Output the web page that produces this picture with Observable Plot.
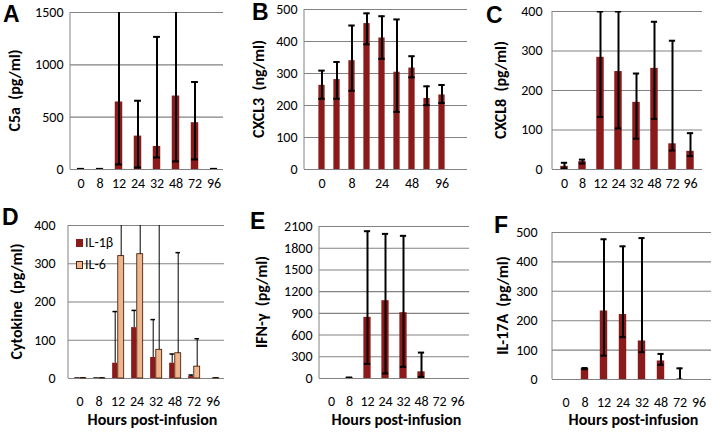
<!DOCTYPE html>
<html><head><meta charset="utf-8">
<script src="https://cdn.jsdelivr.net/npm/d3@7"></script>
<script src="https://cdn.jsdelivr.net/npm/@observablehq/plot@0.6"></script>
<style>
body{margin:0;background:#fff;}
#chart{position:relative;width:715px;height:436px;overflow:hidden;background:#fff;font-family:Carlito,Lato,sans-serif;}
.letter{position:absolute;font:bold 23px "Liberation Sans",Arial,sans-serif;line-height:23px;color:#000;}
.leg{position:absolute;font-size:14px;line-height:14px;white-space:nowrap;}
.sw{position:absolute;}
svg text{white-space:pre;}
</style></head><body><div id="chart"></div>
<script>
// ---- data ----
const hours = ["0","8","12","24","32","48","72","96"];
const hoursB = ["0","4","8","12","24","32","48","72","96"];
const hoursBLabels = ["0","8","24","48","96"];

const c5aMean = [3,3,645,319,220,702,447,3];
const c5aLow  = [0,0,48,19,115,77,96,0];
const c5aHigh = [6,6,1600,657,1267,1600,836,6];

const cxcl3Mean = [263,281,340,456,411,304,317,222,233];
const cxcl3Low  = [221,221,246,391,346,180,288,201,208];
const cxcl3High = [309,336,450,488,479,469,354,260,264];

const cxcl8Mean = [8,20,284,248,170,256,65,46];
const cxcl8Low  = [3,15,133,104,78,128,48,34];
const cxcl8High = [17,25,400,400,243,374,326,92];

const il1bMean = [1,1,40,133,55,40,5,0];
const il1bHigh = [1,1,175,178,154,64,9,null];
const il6Mean  = [1,1,320,325,75,66,31,1];
const il6High  = [1,1,460,460,460,329,104,1];

const ifngMean = [0,10,845,1075,909,92,0,0];
const ifngLow  = [null,6,202,69,161,23,null,null];
const ifngHigh = [null,14,2035,1998,1971,358,null,null];

const il17Mean = [0,37,233,221,131,63,0,0];
const il17Low  = [null,35,81,144,93,50,0,null];
const il17High = [null,39,477,453,481,87,38,null];

const ticksA = [0,500,1000,1500];
const ticksB = [0,100,200,300,400,500];
const ticksC = [0,100,200,300,400];
const ticksD = [0,100,200,300,400];
const ticksE = [0,300,600,900,1200,1500,1800,2100];
const ticksF = [0,100,200,300,400,500];

// ---- styles ----
const GRID = "#828282";
const RED = "#8b1a1a";
const TAN = "#efb58d";
const FONT = "Carlito, Lato, sans-serif";
const NS = "http://www.w3.org/2000/svg";
const chart = document.getElementById("chart");

function rowsOf(cats, mean, lo, hi) {
  return cats.map((c, i) => ({cat: c, mean: mean[i], lo: lo ? lo[i] : mean[i], hi: hi ? hi[i] : null}));
}

function panel(cfg) {
  const [L, T, W, H] = cfg.box;
  const [mt, mr, mb, ml] = cfg.margin;
  const yMax = cfg.yTicks[cfg.yTicks.length - 1];
  const xr = cfg.xRange || [ml, W - mr];
  const band = (xr[1] - xr[0]) / cfg.cats.length;
  const marks = [Plot.ruleY(cfg.yTicks, {stroke: GRID, strokeWidth: 1.1})];
  // left axis line
  marks.push((index, scales, values, dims) => {
    const l = document.createElementNS(NS, "line");
    const x = dims.marginLeft;
    l.setAttribute("x1", x); l.setAttribute("x2", x);
    l.setAttribute("y1", scales.y(yMax));
    l.setAttribute("y2", scales.y(0));
    l.setAttribute("stroke", GRID);
    return l;
  });
  for (const s of cfg.series) {
    const rows = rowsOf(cfg.cats, s.mean, s.lo, s.hi);
    const err = rows.filter(r => r.hi != null && r.lo != null);
    const ins = (w) => ({insetLeft: band / 2 + s.offset - w / 2, insetRight: band / 2 - s.offset - w / 2});
    const barOpts = {x: "cat", y: "mean", fill: s.fill, ...ins(s.width)};
    if (s.stroke) { barOpts.stroke = s.stroke; barOpts.strokeWidth = 0.9; }
    marks.push(Plot.barY(rows, barOpts));
    marks.push(Plot.ruleX(err, {x: "cat", y1: "lo", y2: "hi", dx: s.offset, stroke: "#000", strokeWidth: s.lw, clip: true}));
    marks.push(Plot.tickY(err, {x: "cat", y: "hi", stroke: "#000", strokeWidth: s.cw, clip: true, ...ins(s.cap)}));
    if (s.bottomCap) marks.push(Plot.tickY(err, {x: "cat", y: "lo", stroke: "#000", strokeWidth: s.cw, clip: true, ...ins(s.cap)}));
  }
  // rotated y title, centred on the frame
  marks.push((index, scales, values, dims) => {
    const t = document.createElementNS(NS, "text");
    const cx = dims.marginLeft + cfg.titleDx;
    const cy = (scales.y(0) + scales.y(yMax)) / 2;
    t.setAttribute("transform", `translate(${cx},${cy}) rotate(-90)`);
    t.setAttribute("text-anchor", "middle");
    t.setAttribute("dy", "0.36em");
    t.setAttribute("font-weight", "bold");
    t.setAttribute("font-size", 16);
    t.setAttribute("fill", "#000");
    t.textContent = cfg.yTitle;
    return t;
  });
  if (cfg.xTitle) marks.push(Plot.text([cfg.xTitle], {frameAnchor: "bottom", text: d => d, dy: cfg.xTitleDy, dx: cfg.xTitleDx, fontWeight: "bold", fontSize: 16}));
  const svg = Plot.plot({
    width: W, height: H,
    marginTop: mt, marginRight: mr, marginBottom: mb, marginLeft: ml,
    style: {fontFamily: FONT, fontSize: "14px", background: "transparent", color: "#000"},
    x: {type: "band", domain: cfg.cats, range: xr, padding: 0, ticks: cfg.xTicks, tickSize: 0, tickPadding: cfg.xPad, label: null},
    y: {domain: [0, yMax], ticks: cfg.yTicks, tickSize: 0, tickPadding: cfg.yPad, tickFormat: d => String(d), label: null},
    marks
  });
  svg.style.position = "absolute";
  svg.style.left = L + "px";
  svg.style.top = T + "px";
  svg.style.maxWidth = "none";
  chart.appendChild(svg);
}

const single = (mean, lo, hi) => ({mean, lo, hi, fill: RED, offset: 0, width: 7.6, lw: 2, cw: 2, cap: 7, bottomCap: true});

panel({box: [0, 0, 235, 200], margin: [12, 12, 31, 70], cats: hours, xTicks: hours, yTicks: ticksA,
  yTitle: "C5a  (pg/ml)", titleDx: -56, yPad: 7, xPad: 9, series: [single(c5aMean, c5aLow, c5aHigh)]});
panel({box: [235, 0, 235, 200], margin: [9, 3, 31, 69], xRange: [76.5, 216.5], cats: hoursB, xTicks: hoursBLabels, yTicks: ticksB,
  yTitle: "CXCL3  (ng/ml)", titleDx: -46, yPad: 7, xPad: 9, series: [{...single(cxcl3Mean, cxcl3Low, cxcl3High), width: 6.8}]});
panel({box: [470, 0, 245, 200], margin: [11, 13, 31, 82], cats: hours, xTicks: hours, yTicks: ticksC,
  yTitle: "CXCL8  (pg/ml)", titleDx: -52, yPad: 10, xPad: 9, series: [{...single(cxcl8Mean, cxcl8Low, cxcl8High), width: 8.2}]});
panel({box: [0, 200, 235, 236], margin: [25, 11, 58, 68], cats: hours, xTicks: hours, yTicks: ticksD,
  yTitle: "Cytokine  (pg/ml)", titleDx: -51.5, yPad: 13, xPad: 18, xTitle: "Hours post-infusion", xTitleDy: 46, xTitleDx: 6,
  series: [
    {mean: il1bMean, lo: null, hi: il1bHigh, fill: RED, offset: -2.8, width: 5.6, lw: 1, cw: 1.5, cap: 5, bottomCap: false},
    {mean: il6Mean, lo: null, hi: il6High, fill: TAN, stroke: "#4a2410", offset: 3.2, width: 6.4, lw: 1, cw: 1.5, cap: 5, bottomCap: false}
  ]});
panel({box: [235, 200, 235, 236], margin: [26, 1, 58, 84], cats: hours, xTicks: hours, yTicks: ticksE,
  yTitle: "IFN-\u03b3  (pg/ml)", titleDx: -57.5, yPad: 7, xPad: 18, xTitle: "Hours post-infusion", xTitleDy: 46, xTitleDx: 2,
  series: [{...single(ifngMean, ifngLow, ifngHigh), width: 8}]});
panel({box: [470, 200, 245, 236], margin: [32, 4, 57, 82], cats: hours, xTicks: hours, yTicks: ticksF,
  yTitle: "IL-17A  (pg/ml)", titleDx: -49.5, yPad: 15, xPad: 18, xTitle: "Hours post-infusion", xTitleDy: 45.5, xTitleDx: 1.5,
  series: [{...single(il17Mean, il17Low, il17High), width: 8.3}]});

// panel letters
const letters = [["A", 3, 2.5], ["B", 252, 0.5], ["C", 486, 3.5], ["D", 2, 205.5], ["E", 250, 209.5], ["F", 494, 213.5]];
for (const [t, x, y] of letters) {
  const d = document.createElement("div");
  d.className = "letter"; d.textContent = t;
  d.style.left = x + "px"; d.style.top = y + "px";
  chart.appendChild(d);
}
// legend for panel D
const legend = [["IL-1\u03b2", RED, null, 239], ["IL-6", TAN, "#4a2410", 261]];
for (const [t, fill, stroke, y] of legend) {
  const sw = document.createElement("div");
  sw.className = "sw";
  sw.style.left = "76px"; sw.style.top = y + "px";
  sw.style.width = "7px"; sw.style.height = "8px";
  sw.style.background = fill;
  if (stroke) { sw.style.boxSizing = "border-box"; sw.style.border = "1px solid " + stroke; }
  chart.appendChild(sw);
  const lab = document.createElement("div");
  lab.className = "leg"; lab.textContent = t;
  lab.style.left = "85px"; lab.style.top = (y - 3) + "px";
  chart.appendChild(lab);
}
</script>
</body></html>
